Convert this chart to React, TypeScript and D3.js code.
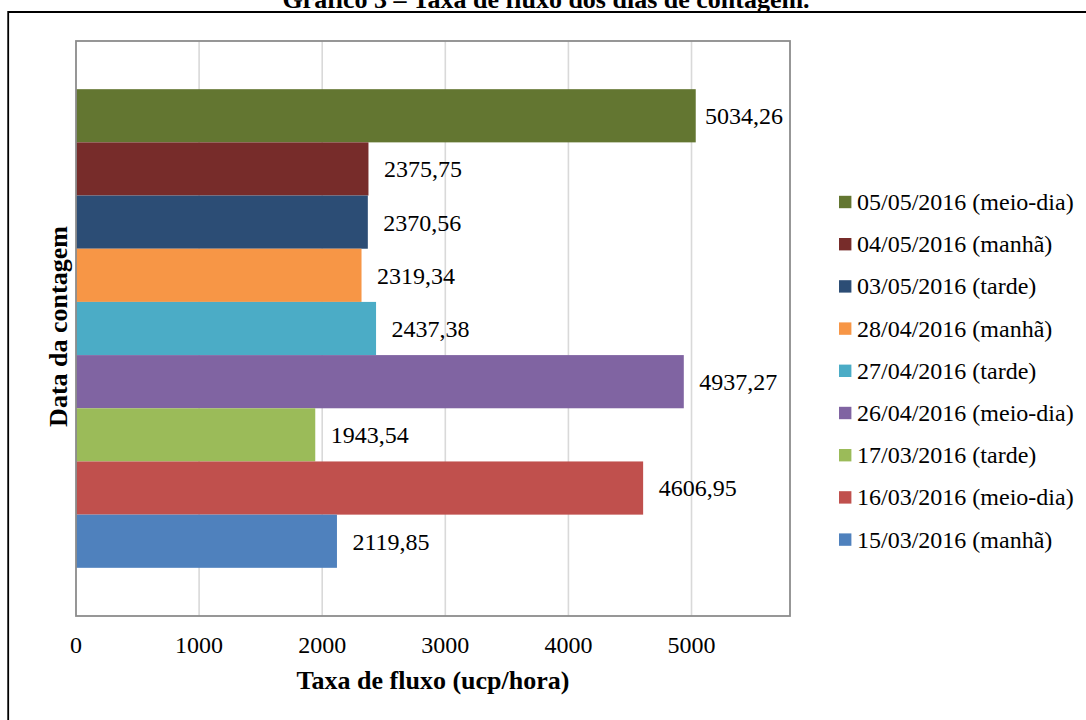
import React from "react";
import * as d3 from "d3";

const series = [
  "05/05/2016 (meio-dia)",
  "04/05/2016 (manhã)",
  "03/05/2016 (tarde)",
  "28/04/2016 (manhã)",
  "27/04/2016 (tarde)",
  "26/04/2016 (meio-dia)",
  "17/03/2016 (tarde)",
  "16/03/2016 (meio-dia)",
  "15/03/2016 (manhã)",
];
const values = [5034.26, 2375.75, 2370.56, 2319.34, 2437.38, 4937.27, 1943.54, 4606.95, 2119.85];
const colors = ["#637631", "#772C2A", "#2C4D75", "#F79646", "#4BACC6", "#8064A2", "#9BBB59", "#C0504D", "#4F81BD"];
const xTicks = [0, 1000, 2000, 3000, 4000, 5000];

const title = "Gráfico 3 – Taxa de fluxo dos dias de contagem.";
const xTitle = "Taxa de fluxo (ucp/hora)";
const yTitle = "Data da contagem";

const W = 1086;
const H = 720;
const FONT = "'Liberation Serif', 'Times New Roman', serif";

export default function App() {
  const left = 76, right = 790, top = 41, bottom = 616;
  const x = d3.scaleLinear().domain([0, 5800]).range([left, right]);
  const y = d3.scaleBand<string>().domain(series).range([top, bottom]).paddingInner(0).paddingOuter(0.906);
  const fmt = (v: number) => v.toFixed(2).replace(".", ",");
  const labelSize = 24;

  return (
    <svg width={W} height={H} style={{ position: "absolute", left: 0, top: 0, background: "#fff" }} fontFamily={FONT}>
      <rect x={0} y={0} width={W} height={H} fill="#fff" />
      {/* outer border */}
      <path d={`M8.2,${H + 2} V12 H${W + 2}`} fill="none" stroke="#000" strokeWidth={1.8} />
      <text x={546} y={8} textAnchor="middle" fontSize={26} fontWeight="bold" fill="#000">{title}</text>

      {/* gridlines */}
      {xTicks.filter((t) => t > 0).map((t) => (
        <line key={t} x1={x(t)} x2={x(t)} y1={top} y2={bottom} stroke="#d9d9d9" strokeWidth={1.6} />
      ))}

      {/* bars */}
      {series.map((s, i) => (
        <rect key={s} x={x(0)} y={y(s)!} width={x(values[i]) - x(0)} height={y.bandwidth()} fill={colors[i]} />
      ))}

      {/* plot border */}
      <rect x={left} y={top} width={right - left} height={bottom - top} fill="none" stroke="#8c8c8c" strokeWidth={1.8} />

      {/* data labels */}
      {series.map((s, i) => {
        const end = x(values[i]);
        const label = fmt(values[i]);
        const tw = 3.25 * labelSize;
        let lx = end + 15.5;
        if (lx + tw > right - 7) lx = right - 7 - tw;
        return (
          <text key={s} x={lx} y={y(s)! + y.bandwidth() / 2} dy="0.35em" fontSize={labelSize} fill="#000">
            {label}
          </text>
        );
      })}

      {/* x tick labels */}
      {xTicks.map((t) => (
        <text key={t} x={x(t)} y={653} textAnchor="middle" fontSize={24} fill="#000">{t}</text>
      ))}

      <text x={(left + right) / 2} y={689} textAnchor="middle" fontSize={26} fontWeight="bold" fill="#000">{xTitle}</text>
      <text transform={`translate(67,${(top + bottom) / 2 - 2}) rotate(-90)`} textAnchor="middle" fontSize={26} fontWeight="bold" fill="#000">{yTitle}</text>

      {/* legend */}
      {series.map((s, i) => {
        const cy = 202 + i * 42.2;
        return (
          <g key={s}>
            <rect x={839} y={cy - 6.2} width={12.4} height={12.4} fill={colors[i]} />
            <text x={857} y={cy + 8} fontSize={24} fill="#000">{s}</text>
          </g>
        );
      })}
    </svg>
  );
}
